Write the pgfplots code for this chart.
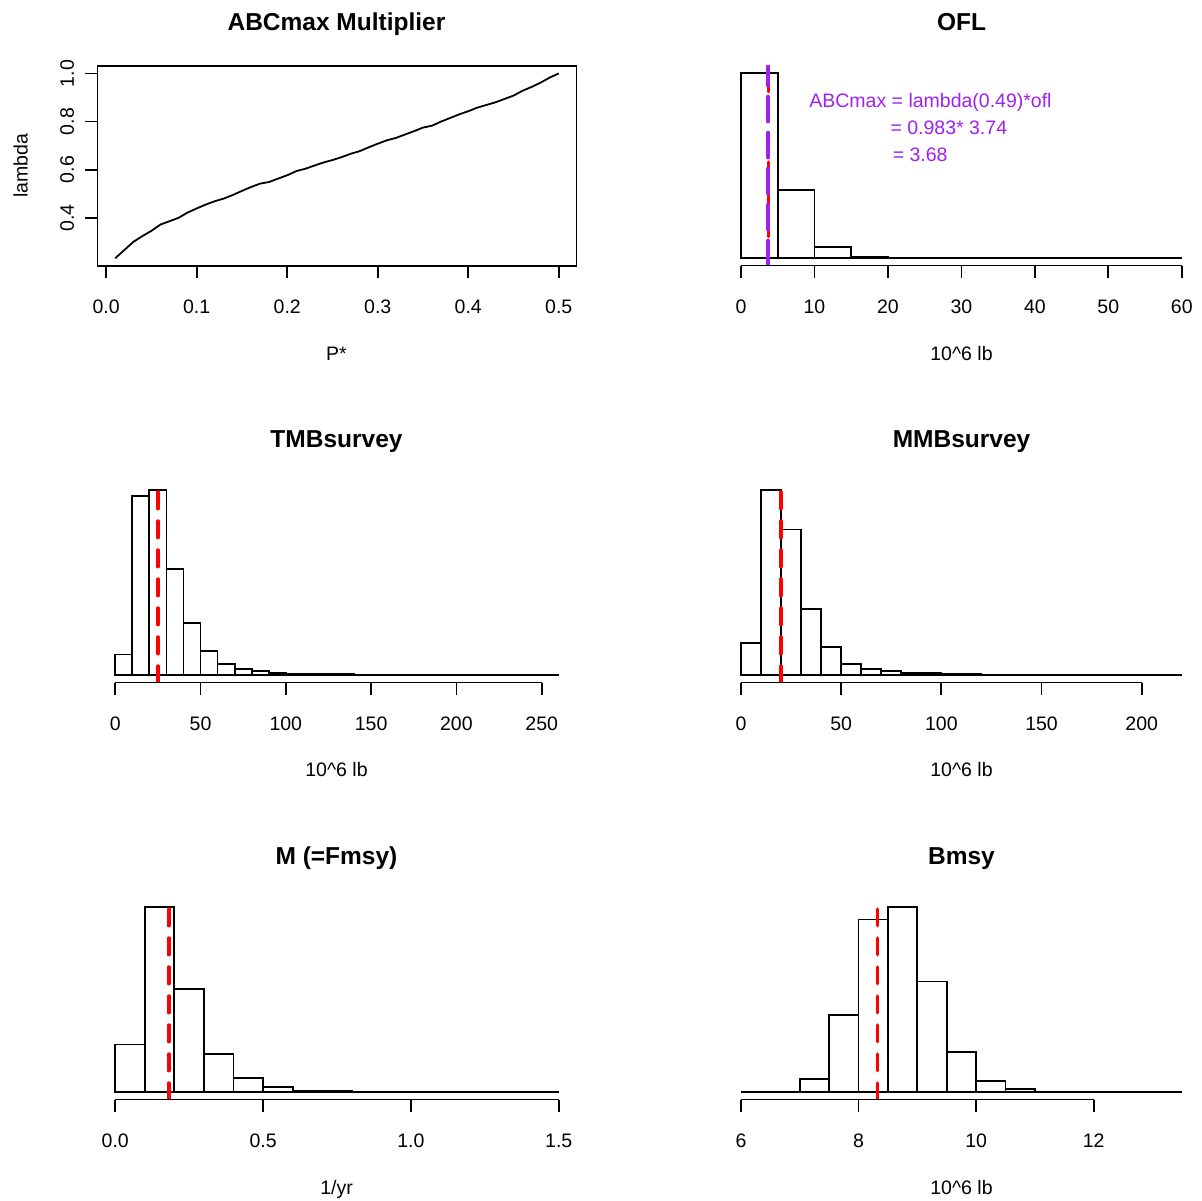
\documentclass[border=0pt]{standalone}
\usepackage{pgfplots}
\pgfplotsset{compat=1.18}
\usepackage{fontspec}
\setmainfont{Liberation Sans}
\definecolor{rpurple}{HTML}{A020F0}
\definecolor{rred}{HTML}{FF0000}
\pgfplotsset{
  rbase/.style={scale only axis, anchor=south west, width=239bp, height=99.85bp,
    tick align=outside, major tick length=6bp,
    every tick/.style={black, line width=0.9bp},
    tick label style={font=\fontsize{9.75bp}{11bp}\selectfont, inner sep=0pt},
    xticklabel style={anchor=north}, xticklabel shift=11.1bp,
    /pgf/number format/assume math mode=true,
    xtick pos=bottom, ytick pos=left},
  rhist/.style={rbase, axis x line*=bottom, axis y line=none,
    x axis line style={draw=none}, ymin=-4, ymax=104, ytick=\empty},
  hbar/.style={ybar interval, fill=none, draw=black, line width=0.9bp},
  redl/.style={rred, line width=1.8bp, line cap=round, dash pattern=on 8.3bp off 6.2bp},
  purl/.style={rpurple, line width=1.8bp, line cap=round, dash pattern=on 12.6bp off 5.4bp},
}
\newcommand{\ttl}[1]{\fontsize{12.25bp}{14bp}\selectfont\bfseries #1}
\newcommand{\lbl}{\fontsize{9.75bp}{11bp}\selectfont}
\begin{document}
\begin{tikzpicture}
\useasboundingbox (0,0) rectangle (601bp,600.5bp);
% ---- Panel 1: ABCmax Multiplier
\begin{axis}[rbase, at={(48.75bp,467.65bp)}, width=239.5bp,
  xmin=-0.0096, xmax=0.5196, ymin=0.201, ymax=1.031,
  xtick={0,0.1,0.2,0.3,0.4,0.5}, xticklabels={0.0,0.1,0.2,0.3,0.4,0.5},
  ytick={0.4,0.6,0.8,1.0}, yticklabels={0.4,0.6,0.8,1.0},
  yticklabel style={rotate=90, anchor=south}, yticklabel shift=5.5bp,
  axis line style={line width=0.9bp}]
\addplot[black, line width=0.9bp] coordinates {
(0.01,0.232)(0.02,0.266)(0.03,0.300)(0.04,0.324)(0.05,0.346)(0.06,0.372)
(0.07,0.386)(0.08,0.400)(0.09,0.422)(0.10,0.439)(0.11,0.455)(0.12,0.469)
(0.13,0.480)(0.14,0.495)(0.15,0.512)(0.16,0.528)(0.17,0.542)(0.18,0.549)
(0.19,0.563)(0.20,0.577)(0.21,0.594)(0.22,0.604)(0.23,0.617)(0.24,0.630)
(0.25,0.640)(0.26,0.652)(0.27,0.666)(0.28,0.677)(0.29,0.693)(0.30,0.708)
(0.31,0.722)(0.32,0.732)(0.33,0.746)(0.34,0.760)(0.35,0.775)(0.36,0.783)
(0.37,0.800)(0.38,0.815)(0.39,0.830)(0.40,0.843)(0.41,0.858)(0.42,0.869)
(0.43,0.880)(0.44,0.894)(0.45,0.908)(0.46,0.928)(0.47,0.944)(0.48,0.962)
(0.49,0.983)(0.50,1.000)};
\end{axis}
% ---- Panel 2: OFL
\begin{axis}[rhist, at={(361.7bp,467.65bp)}, width=238bp,
  xmin=-2.4, xmax=62.4,
  xtick={0,10,20,30,40,50,60}, xticklabels={0,10,20,30,40,50,60}]
\addplot[hbar] coordinates {(0,100)(5,36.8)(10,5.9)(15,0.9)(20,0.15)(25,0.05)(30,0)(35,0)(40,0)(45,0)(50,0)(55,0)(60,0)};
\addplot[redl] coordinates {(3.74,-4)(3.74,104)};
\addplot[purl] coordinates {(3.68,-4)(3.68,104)};
\draw[line width=0.9bp] (axis cs:0,-4) -- (axis cs:60,-4);
\node[anchor=base west, text=rpurple, font=\lbl, inner sep=0pt] at (axis cs:9.25,81.8) {ABCmax = lambda(0.49)*ofl};
\node[anchor=base west, text=rpurple, font=\lbl, inner sep=0pt] at (axis cs:20.3,66.7) {= 0.983* 3.74};
\node[anchor=base west, text=rpurple, font=\lbl, inner sep=0pt] at (axis cs:20.6,52.1) {= 3.68};
\end{axis}
% ---- Panel 3: TMBsurvey
\begin{axis}[rhist, at={(48.75bp,259.15bp)}, width=239.5bp,
  xmin=-10.4, xmax=270.4,
  xtick={0,50,100,150,200,250}, xticklabels={0,50,100,150,200,250}]
\addplot[hbar] coordinates {(0,11.3)(10,96.8)(20,100)(30,57.3)(40,28.1)(50,13.3)(60,6.3)(70,3.2)(80,2.3)(90,1.1)(100,0.9)(110,0.8)(120,0.7)(130,0.5)(140,0)(150,0)(160,0)(170,0)(180,0)(190,0)(200,0)(210,0)(220,0)(230,0)(240,0)(250,0)(260,0)};
\addplot[redl] coordinates {(25.0,-4)(25.0,104)};
\draw[line width=0.9bp] (axis cs:0,-4) -- (axis cs:250,-4);
\end{axis}
% ---- Panel 4: MMBsurvey
\begin{axis}[rhist, at={(361.7bp,259.15bp)}, width=238bp,
  xmin=-8.8, xmax=228.8,
  xtick={0,50,100,150,200}, xticklabels={0,50,100,150,200}]
\addplot[hbar] coordinates {(0,17.4)(10,100)(20,78.9)(30,36.0)(40,15.1)(50,6.3)(60,3.2)(70,2.3)(80,1.25)(90,1.1)(100,1.0)(110,0.8)(120,0)(130,0)(140,0)(150,0)(160,0)(170,0)(180,0)(190,0)(200,0)(210,0)(220,0)};
\addplot[redl] coordinates {(19.9,-4)(19.9,104)};
\draw[line width=0.9bp] (axis cs:0,-4) -- (axis cs:200,-4);
\end{axis}
% ---- Panel 5: M
\begin{axis}[rhist, at={(48.75bp,50.65bp)}, width=239.5bp,
  xmin=-0.06, xmax=1.56,
  xtick={0,0.5,1,1.5}, xticklabels={0.0,0.5,1.0,1.5}]
\addplot[hbar] coordinates {(0,25.8)(0.1,100)(0.2,55.8)(0.3,20.9)(0.4,7.9)(0.5,3.0)(0.6,0.9)(0.7,0.9)(0.8,0)(0.9,0)(1.0,0)(1.1,0)(1.2,0)(1.3,0)(1.4,0)(1.5,0)};
\addplot[redl] coordinates {(0.181,-4)(0.181,104)};
\draw[line width=0.9bp] (axis cs:0,-4) -- (axis cs:1.5,-4);
\end{axis}
% ---- Panel 6: Bmsy
\begin{axis}[rhist, at={(361.7bp,50.65bp)}, width=238bp,
  xmin=5.7, xmax=13.8,
  xtick={6,8,10,12}, xticklabels={6,8,10,12}]
\addplot[hbar] coordinates {(6,0)(6.5,0)(7,7.0)(7.5,41.9)(8,93.4)(8.5,100)(9,59.9)(9.5,21.8)(10,5.9)(10.5,2.0)(11,0)(11.5,0)(12,0)(12.5,0)(13,0)(13.5,0)};
\addplot[redl] coordinates {(8.32,-4)(8.32,104)};
\draw[line width=0.9bp] (axis cs:6,-4) -- (axis cs:12,-4);
\end{axis}
% ---- Titles
\node[anchor=base] at (168.25bp,585.1bp) {\ttl{ABCmax Multiplier}};
\node[anchor=base] at (480.75bp,585.1bp) {\ttl{OFL}};
\node[anchor=base] at (168.25bp,376.6bp) {\ttl{TMBsurvey}};
\node[anchor=base] at (480.75bp,376.6bp) {\ttl{MMBsurvey}};
\node[anchor=base] at (168.25bp,168.1bp) {\ttl{M (=Fmsy)}};
\node[anchor=base] at (480.75bp,168.1bp) {\ttl{Bmsy}};
% ---- Axis labels
\node[anchor=base, font=\lbl] at (168.25bp,420bp) {P*};
\node[anchor=base, font=\lbl] at (480.75bp,420bp) {10\textasciicircum 6 lb};
\node[anchor=base, font=\lbl] at (168.25bp,212bp) {10\textasciicircum 6 lb};
\node[anchor=base, font=\lbl] at (480.75bp,212bp) {10\textasciicircum 6 lb};
\node[anchor=base, font=\lbl] at (168.25bp,3.5bp) {1/yr};
\node[anchor=base, font=\lbl] at (480.75bp,3.5bp) {10\textasciicircum 6 lb};
\node[anchor=base, font=\lbl, rotate=90] at (13.8bp,517.6bp) {lambda};
\end{tikzpicture}
\end{document}
